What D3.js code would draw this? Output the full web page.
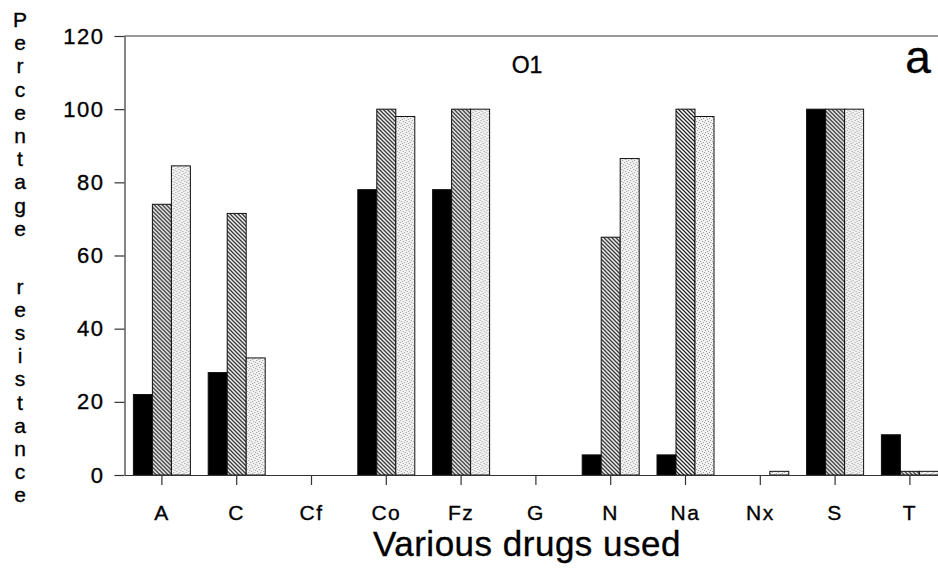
<!DOCTYPE html>
<html>
<head>
<meta charset="utf-8">
<script src="https://cdn.jsdelivr.net/npm/d3@7"></script>
<style>
  body { margin: 0; background: #fff; }
  text { font-family: 'Liberation Sans', Arial, sans-serif; fill: #000; stroke: #000; stroke-width: 0.35px; }
</style>
</head>
<body>
<script>
const drugs = ['A', 'C', 'Cf', 'Co', 'Fz', 'G', 'N', 'Na', 'Nx', 'S', 'T'];
const solidValues = [22, 28, 0, 78, 78, 0, 5.5, 5.5, 0, 100, 11];
const hatchValues = [74, 71.5, 0, 100, 100, 0, 65, 100, 0, 100, 1];
const dotValues = [84.5, 32, 0, 98, 100, 0, 86.5, 98, 1, 100, 1];
const yTicks = [0, 20, 40, 60, 80, 100, 120];
const seriesNames = ['solid', 'hatch', 'dots'];

const w = 938;
const h = 570;

const dataset = drugs.map((d, i) => ({ drug: d, values: [solidValues[i], hatchValues[i], dotValues[i]] }));

const svg = d3.select('body').append('svg').attr('width', w).attr('height', h);

// patterns
const defs = svg.append('defs');
const hatch = defs.append('pattern').attr('id', 'hatch').attr('patternUnits', 'userSpaceOnUse').attr('width', 4).attr('height', 4);
hatch.append('rect').attr('width', 4).attr('height', 4).attr('fill', '#fff');
hatch.append('path').attr('d', 'M0,0L4,4M-1,3L1,5M3,-1L5,1').attr('stroke', '#222').attr('stroke-width', 1.25);

const dots = defs.append('pattern').attr('id', 'dots').attr('patternUnits', 'userSpaceOnUse').attr('width', 6).attr('height', 6);
dots.append('rect').attr('width', 6).attr('height', 6).attr('fill', '#f2f2f2');
[[0, 0], [3, 1], [1, 3], [4, 4], [5, 2], [2, 5]].forEach((p) => {
  dots.append('rect').attr('x', p[0]).attr('y', p[1]).attr('width', 1).attr('height', 1).attr('fill', '#999');
});

const fills = ['#000', 'url(#hatch)', 'url(#dots)'];

const xScale = d3.scaleBand().domain(drugs).range([124.5, 947.3]).paddingInner(0.238).paddingOuter(0.119);
const x1 = d3.scaleBand().domain(seriesNames).range([0, xScale.bandwidth()]);
const yScale = d3.scaleLinear().domain([0, 120]).range([475, 36]);

// frame top line
svg.append('line')
   .attr('x1', xScale.range()[0]).attr('x2', xScale.range()[1])
   .attr('y1', yScale(120)).attr('y2', yScale(120))
   .attr('stroke', '#333').attr('stroke-width', 1.2);

const groups = svg.selectAll('.group')
  .data(dataset)
  .enter()
  .append('g')
  .attr('class', 'group')
  .attr('transform', (d) => 'translate(' + xScale(d.drug) + ',0)');

groups.selectAll('rect')
  .data((d) => d.values.map((v, i) => ({ key: seriesNames[i], value: v, i: i })))
  .enter()
  .append('rect')
  .attr('x', (d) => x1(d.key))
  .attr('y', (d) => yScale(d.value))
  .attr('width', x1.bandwidth())
  .attr('height', (d) => yScale(0) - yScale(d.value))
  .attr('fill', (d) => fills[d.i])
  .attr('stroke', '#111')
  .attr('stroke-width', 1);

const xAxis = d3.axisBottom(xScale).tickSize(10).tickSizeOuter(0).tickPadding(20);
const yAxis = d3.axisLeft(yScale).tickValues(yTicks).tickSize(10).tickSizeOuter(0).tickPadding(10);

const gx = svg.append('g').attr('transform', 'translate(0,' + yScale(0) + ')').call(xAxis);
const gy = svg.append('g').attr('transform', 'translate(124.5,0)').call(yAxis);

[gx, gy].forEach((g) => {
  g.selectAll('path, line').attr('stroke', '#333').attr('stroke-width', 1.2);
  g.selectAll('text').style('font-size', '21px').style('letter-spacing', '1.5px').attr('fill', '#000');
});
gy.selectAll('text').style('font-size', '22px');

// axis titles
svg.append('text')
   .attr('x', 527).attr('y', 556)
   .attr('text-anchor', 'middle')
   .style('font-size', '35px')
   .style('letter-spacing', '0.5px')
   .text('Various drugs used');

const yWords = [{ word: 'Percentage', y: 27 }, { word: 'resistance', y: 293.5 }];
yWords.forEach((wd) => {
  const t = svg.append('text').attr('text-anchor', 'middle').style('font-size', '21px');
  wd.word.split('').forEach((ch, i) => {
    t.append('tspan').attr('x', 20).attr('y', wd.y + i * 23.2).text(ch);
  });
});

svg.append('text').attr('x', 527).attr('y', 73).attr('text-anchor', 'middle').style('font-size', '23px').text('O1');
svg.append('text').attr('x', 918).attr('y', 73).attr('text-anchor', 'middle').style('font-size', '46px').text('a');
</script>
</body>
</html>
